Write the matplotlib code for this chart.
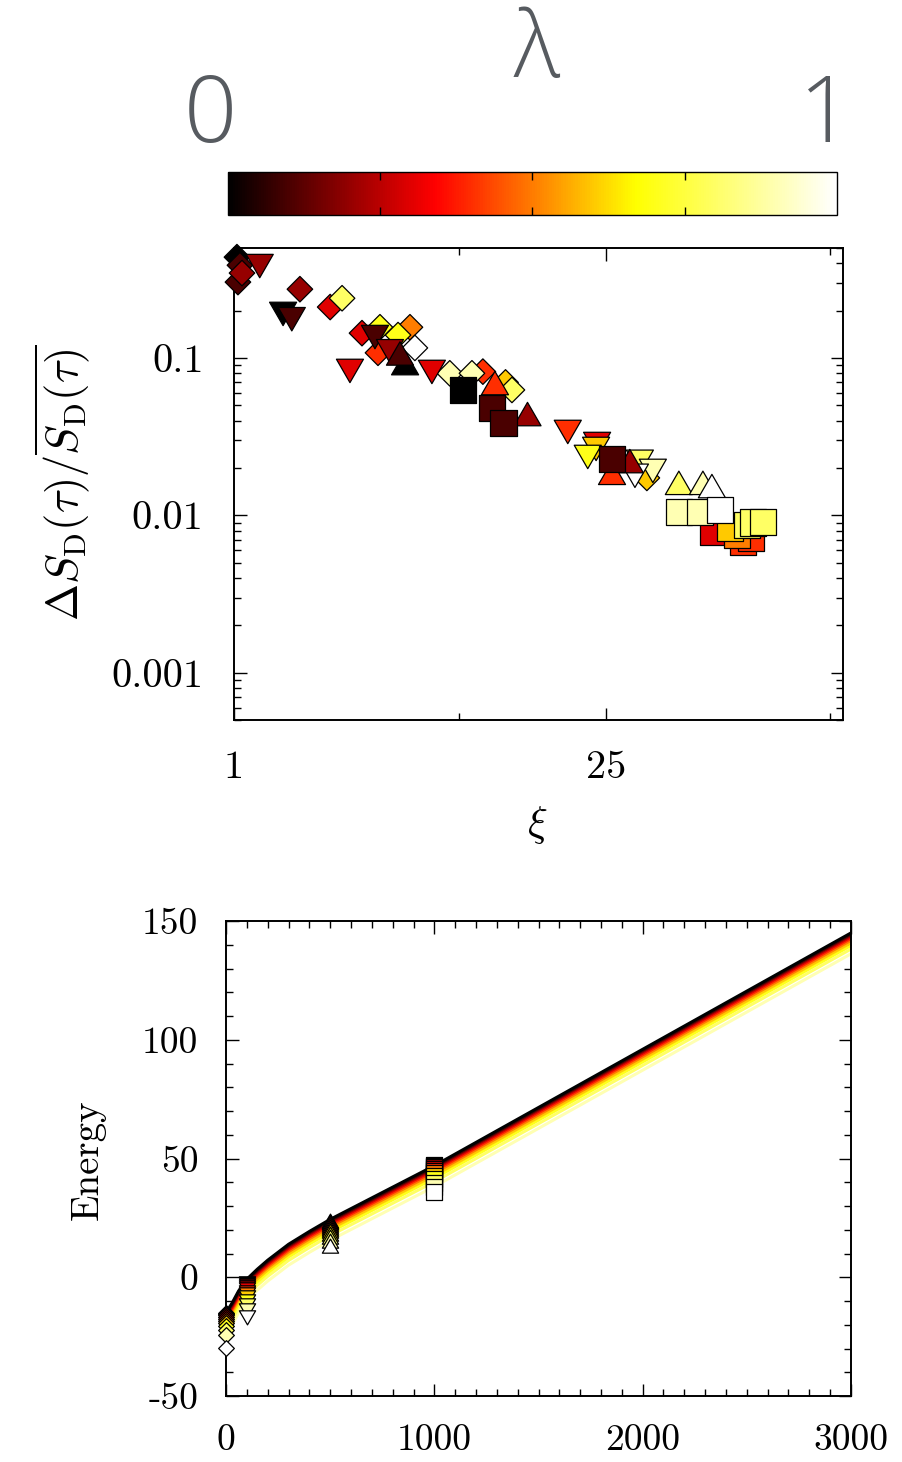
import numpy as np
import matplotlib
matplotlib.use('Agg')
import matplotlib.pyplot as plt
from matplotlib.colors import LinearSegmentedColormap, Normalize
from matplotlib.cm import ScalarMappable
from matplotlib.path import Path
from matplotlib.ticker import FixedLocator, NullFormatter, MultipleLocator, LogLocator

plt.rcParams['font.family'] = 'serif'
plt.rcParams['font.serif'] = ['cmr10', 'DejaVu Serif']
plt.rcParams['mathtext.fontset'] = 'cm'
plt.rcParams['axes.unicode_minus'] = False
plt.rcParams['axes.formatter.use_mathtext'] = False

# colour scale for lambda
cmap = LinearSegmentedColormap.from_list(
    'lam', [(0.0, '#000000'), (0.34, '#ff0000'), (0.67, '#ffff00'), (1.0, '#ffffff')])
norm = Normalize(0, 1)

# ---- scaling collapse: relative fluctuation vs xi ----
dia_xi = [1.026, 1.053, 1.072, 1.035, 1.77, 2.30, 2.55, 3.03, 3.54, 4.14, 4.59,
          4.79, 3.48, 6.48, 7.85, 8.63, 10.5, 11.1, 35.7]
dia_ratio = [0.438, 0.389, 0.347, 0.304, 0.274, 0.211, 0.240, 0.144, 0.157, 0.140,
             0.157, 0.116, 0.108, 0.080, 0.080, 0.082, 0.070, 0.0627, 0.0173]
dia_lam = [0.0, 0.1, 0.2, 0.1, 0.2, 0.3, 0.8, 0.3, 0.7, 0.7, 0.5,
           1.0, 0.4, 0.9, 0.9, 0.4, 0.6, 0.8, 0.6]

down_xi = [1.25, 1.53, 1.65, 3.39, 3.86, 2.73, 5.55, 18.0, 23.2, 23.0, 21.4,
           33.6, 32.2, 37.6]
down_ratio = [0.407, 0.202, 0.187, 0.144, 0.117, 0.0877, 0.0864, 0.0359, 0.0301,
              0.0280, 0.0249, 0.0232, 0.0189, 0.0203]
down_lam = [0.2, 0.0, 0.1, 0.1, 0.2, 0.3, 0.3, 0.4, 0.3, 0.6, 0.7,
            0.8, 1.0, 0.9]

up_xi = [4.21, 4.40, 9.58, 12.7, 30.8, 26.4, 47.1, 58.0, 62.7]
up_ratio = [0.101, 0.0877, 0.0655, 0.0416, 0.0209, 0.0176, 0.0152, 0.0152, 0.0145]
up_lam = [0.1, 0.0, 0.4, 0.2, 0.2, 0.4, 0.8, 0.9, 1.0]

sq_xi = [7.26, 9.33, 10.3, 26.4, 63.2, 82.0, 88.0, 78.0, 73.3, 47.1, 56.5, 67.2,
         84.9, 89.4, 97.5]
sq_ratio = [0.0627, 0.0482, 0.0387, 0.0229, 0.0079, 0.0068, 0.0072, 0.0075, 0.0083,
            0.0105, 0.0105, 0.0108, 0.0087, 0.0090, 0.0091]
sq_lam = [0.0, 0.1, 0.1, 0.1, 0.3, 0.4, 0.4, 0.5, 0.6, 0.9, 0.9, 1.0,
          0.8, 0.8, 0.8]

# ---- energy vs time ----
lam = [0.0, 0.1, 0.2, 0.3, 0.4, 0.5, 0.6, 0.7, 0.8, 0.9, 1.0]
t_line = [0, 30, 60, 100, 150, 200, 300, 400, 500, 1000, 3000]
energy_lines = [
    [-14.9, -10.7, -5.8, -0.8, 3.4, 7.2, 13.9, 19.3, 24.4, 47.0, 145.0],
    [-15.4, -11.2, -6.3, -1.3, 2.9, 6.7, 13.4, 18.8, 23.9, 46.5, 144.5],
    [-16.0, -11.8, -6.8, -1.8, 2.4, 6.2, 12.9, 18.3, 23.4, 46.0, 144.0],
    [-16.7, -12.4, -7.5, -2.4, 1.8, 5.6, 12.3, 17.7, 22.8, 45.4, 143.4],
    [-17.4, -13.1, -8.2, -3.1, 1.1, 4.9, 11.6, 17.0, 22.1, 44.7, 142.7],
    [-18.2, -13.9, -9.0, -3.9, 0.3, 4.1, 10.8, 16.2, 21.3, 43.9, 141.9],
    [-19.2, -14.9, -10.0, -4.9, -0.7, 3.1, 9.8, 15.2, 20.3, 42.9, 140.9],
    [-20.5, -16.2, -11.2, -6.1, -1.9, 1.9, 8.6, 14.0, 19.1, 41.7, 139.7],
    [-22.2, -17.9, -12.8, -7.6, -3.4, 0.4, 7.1, 12.5, 17.6, 40.2, 138.2],
    [-24.4, -20.0, -14.9, -9.6, -5.4, -1.6, 5.1, 10.5, 15.6, 38.2, 136.2],
    [-29.6, -24.4, -18.6, -12.3, -8.1, -4.3, 2.4, 7.8, 12.9, 35.5, 133.5],
]
e_t0 = [-14.9, -15.4, -16.0, -16.7, -17.4, -18.2, -19.2, -20.5, -22.2, -24.4, -29.6]
e_t100 = [-1.5, -2.4, -3.2, -4.2, -5.2, -6.3, -7.6, -9.0, -10.7, -12.8, -15.8]
e_t500 = [23.0, 22.4, 21.9, 21.2, 20.5, 19.6, 18.7, 17.5, 16.1, 14.4, 12.2]
e_t1000 = [47.3, 46.8, 46.3, 45.6, 44.8, 43.9, 42.8, 41.4, 39.8, 38.0, 35.8]

# equilateral triangles (closed paths so every edge gets stroked)
tri_down = Path([(-1, 0.577), (1, 0.577), (0, -1.155), (-1, 0.577)],
                [Path.MOVETO, Path.LINETO, Path.LINETO, Path.CLOSEPOLY])
tri_up = Path([(-1, -0.577), (1, -0.577), (0, 1.155), (-1, -0.577)],
              [Path.MOVETO, Path.LINETO, Path.LINETO, Path.CLOSEPOLY])

fig = plt.figure(figsize=(9.03, 14.62), dpi=100)

# colour bar
cax = fig.add_axes([0.2525, 0.8529, 0.6744, 0.0294])
cb = fig.colorbar(ScalarMappable(norm=norm, cmap=cmap), cax=cax, orientation='horizontal')
cb.outline.set_linewidth(1.0)
cax.set_xticks([0.25, 0.5, 0.75])
cax.tick_params(axis='x', direction='in', length=6, width=1.0, top=True, bottom=True,
                labelbottom=False, labeltop=False)
gray = '#575b60'
fig.text(0.2326, 0.919, '0', ha='center', va='center', fontsize=67, color=gray,
         family='Open Sans', fontweight='light')
fig.text(0.9147, 0.919, '1', ha='center', va='center', fontsize=67, color=gray,
         family='Open Sans', fontweight='light')
fig.text(0.5947, 0.9635, 'λ', ha='center', va='center', fontsize=66, color=gray,
         family='Open Sans', fontweight='light')

# top panel
ax1 = fig.add_axes([0.2591, 0.5075, 0.6744, 0.3228])
ax1.set_xscale('log')
ax1.set_yscale('log')
kw = dict(cmap=cmap, norm=norm, edgecolors='black', linewidths=0.9, clip_on=False)
order = np.argsort(dia_lam, kind='stable')
ax1.scatter(np.array(dia_xi)[order], np.array(dia_ratio)[order], c=np.array(dia_lam)[order],
            marker='D', s=13.0**2, zorder=3, **kw)
order = np.argsort(down_lam, kind='stable')
ax1.scatter(np.array(down_xi)[order], np.array(down_ratio)[order], c=np.array(down_lam)[order],
            marker=tri_down, s=22.5**2, zorder=4, **kw)
order = np.argsort(up_lam, kind='stable')
ax1.scatter(np.array(up_xi)[order], np.array(up_ratio)[order], c=np.array(up_lam)[order],
            marker=tri_up, s=22.5**2, zorder=5, **kw)
order = np.argsort(sq_lam, kind='stable')
ax1.scatter(np.array(sq_xi)[order], np.array(sq_ratio)[order], c=np.array(sq_lam)[order],
            marker='s', s=19.0**2, zorder=6, **kw)

ax1.set_xlim(1, 195)
ax1.set_ylim(5e-4, 0.5)
ax1.xaxis.set_major_locator(FixedLocator([1, 25]))
ax1.xaxis.set_minor_locator(FixedLocator([7, 175]))
ax1.xaxis.set_minor_formatter(NullFormatter())
ax1.set_xticklabels(['1', '25'])
ax1.yaxis.set_major_locator(FixedLocator([1e-3, 1e-2, 1e-1]))
ax1.yaxis.set_minor_locator(LogLocator(base=10, subs=np.arange(2, 10)))
ax1.yaxis.set_minor_formatter(NullFormatter())
ax1.set_yticklabels(['0.001', '0.01', '0.1'])
ax1.tick_params(which='both', direction='in', top=True, right=True, width=1.0)
ax1.tick_params(which='major', length=9, labelsize=29)
ax1.tick_params(which='minor', length=5)
ax1.tick_params(axis='y', pad=22)
ax1.tick_params(axis='x', pad=22)
for sp in ax1.spines.values():
    sp.set_linewidth(1.4)
fig.text(0.070, 0.67, r'$\Delta S_{\mathrm{D}}(\tau)/\overline{S_{\mathrm{D}}(\tau)}$',
         rotation=90, ha='center', va='center', fontsize=32)
fig.text(0.5947, 0.4357, r'$\xi$', ha='center', va='center', fontsize=30)

# bottom panel
ax2 = fig.add_axes([0.2503, 0.0451, 0.6921, 0.3249])
for i in range(len(lam) - 1, -1, -1):
    ax2.plot(t_line, energy_lines[i], color=cmap(norm(lam[i])), lw=2.2, zorder=2)
mk = dict(edgecolors='black', linewidths=0.9, cmap=cmap, norm=norm, zorder=4, clip_on=False)
for i in range(len(lam)):
    ax2.scatter([0], [e_t0[i]], c=[lam[i]], marker='D', s=8.0**2, **mk)
    ax2.scatter([100], [e_t100[i]], c=[lam[i]], marker=tri_down, s=13.5**2, **mk)
    ax2.scatter([500], [e_t500[i]], c=[lam[i]], marker=tri_up, s=13.5**2, **mk)
    ax2.scatter([1000], [e_t1000[i]], c=[lam[i]], marker='s', s=11.5**2, **mk)
ax2.set_xlim(0, 3000)
ax2.set_ylim(-50, 150)
ax2.xaxis.set_major_locator(MultipleLocator(1000))
ax2.xaxis.set_minor_locator(MultipleLocator(100))
ax2.yaxis.set_major_locator(MultipleLocator(50))
ax2.yaxis.set_minor_locator(MultipleLocator(10))
ax2.tick_params(which='both', direction='in', top=True, right=True, width=1.0)
ax2.tick_params(which='major', length=9, labelsize=27)
ax2.tick_params(which='minor', length=5)
ax2.tick_params(axis='y', pad=20)
ax2.tick_params(axis='x', pad=20)
for sp in ax2.spines.values():
    sp.set_linewidth(1.4)
fig.text(0.0975, 0.2065, 'Energy', rotation=90, ha='center', va='center', fontsize=28)

fig.savefig('out.png', dpi=100)
